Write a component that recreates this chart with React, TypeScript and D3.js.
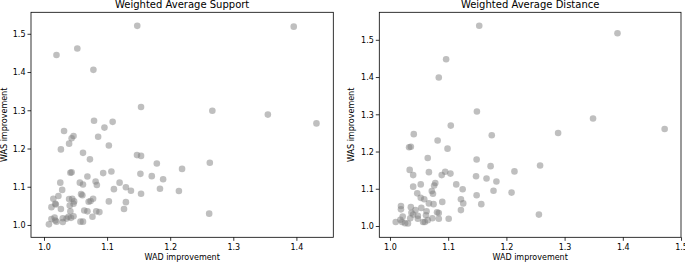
import React from "react";
import * as d3 from "d3";

// ---- data ----
const leftX = [1.147,1.395,1.019,1.052,1.0775,1.153,1.266,1.354,1.431,1.0785,1.108,1.095,1.031,1.046,1.043,1.085,1.039,1.102,1.026,1.061,1.072,1.1466,1.153,1.178,1.218,1.262,1.041,1.043,1.068,1.093,1.106,1.152,1.170,1.188,1.025,1.056,1.061,1.081,1.083,1.119,1.028,1.110,1.129,1.137,1.153,1.183,1.213,1.014,1.022,1.017,1.011,1.026,1.039,1.044,1.047,1.058,1.060,1.070,1.073,1.077,1.102,1.129,1.046,1.040,1.041,1.063,1.068,1.082,1.087,1.126,1.046,1.076,1.011,1.016,1.019,1.029,1.035,1.038,1.029,1.057,1.061,1.007,1.261,1.017,1.018,1.042];
const leftY = [1.522,1.520,1.446,1.463,1.407,1.310,1.300,1.290,1.267,1.274,1.271,1.256,1.247,1.234,1.228,1.232,1.214,1.209,1.199,1.190,1.173,1.184,1.182,1.162,1.148,1.164,1.138,1.139,1.128,1.137,1.141,1.135,1.129,1.121,1.112,1.112,1.107,1.115,1.106,1.112,1.093,1.095,1.100,1.091,1.083,1.096,1.090,1.070,1.077,1.057,1.048,1.043,1.069,1.070,1.063,1.082,1.079,1.062,1.064,1.070,1.063,1.061,1.057,1.052,1.037,1.039,1.037,1.037,1.035,1.043,1.024,1.023,1.017,1.021,1.010,1.019,1.018,1.023,1.009,1.010,1.010,1.003,1.031,1.013,1.055,1.020];

const rightX = [1.1525,1.39,1.0956,1.083,1.1485,1.1036,1.348,1.471,1.040,1.081,1.174,1.288,1.032,1.035,1.098,1.064,1.148,1.172,1.257,1.213,1.033,1.039,1.066,1.088,1.094,1.103,1.147,1.165,1.182,1.052,1.077,1.075,1.039,1.046,1.071,1.073,1.113,1.124,1.177,1.208,1.148,1.052,1.058,1.066,1.074,1.089,1.121,1.125,1.156,1.018,1.018,1.035,1.043,1.053,1.062,1.036,1.039,1.047,1.061,1.080,1.083,1.121,1.021,1.034,1.047,1.072,1.083,1.100,1.009,1.017,1.020,1.025,1.030,1.056,1.059,1.064,1.255];
const rightY = [1.539,1.519,1.449,1.400,1.309,1.271,1.290,1.262,1.248,1.231,1.245,1.251,1.213,1.214,1.209,1.184,1.180,1.162,1.164,1.148,1.152,1.138,1.146,1.138,1.147,1.142,1.135,1.129,1.121,1.113,1.117,1.110,1.107,1.089,1.095,1.088,1.113,1.100,1.096,1.091,1.084,1.077,1.073,1.062,1.060,1.066,1.073,1.062,1.060,1.055,1.046,1.052,1.044,1.050,1.041,1.037,1.032,1.029,1.030,1.038,1.036,1.044,1.027,1.022,1.021,1.022,1.021,1.021,1.012,1.018,1.012,1.009,1.008,1.012,1.012,1.017,1.032];

const leftXTicks = [1.0, 1.1, 1.2, 1.3, 1.4];
const rightXTicks = [1.0, 1.1, 1.2, 1.3, 1.4, 1.5];
const yTicks = [1.0, 1.1, 1.2, 1.3, 1.4, 1.5];

const titles = ["Weighted Average Support", "Weighted Average Distance"];
const xLabel = "WAD improvement";
const yLabel = "WAS improvement";

const FONT = "DejaVu Sans, sans-serif";

type PanelProps = {
  left: number; right: number; top: number; bottom: number;
  xDomain: [number, number]; yDomain: [number, number];
  xs: number[]; ys: number[]; xTicks: number[]; title: string; yLabelX: number;
};

function Panel(p: PanelProps) {
  const x = d3.scaleLinear().domain(p.xDomain).range([p.left, p.right]);
  const y = d3.scaleLinear().domain(p.yDomain).range([p.bottom, p.top]);
  const fmt = d3.format(".1f");
  const cx = (p.left + p.right) / 2;
  const cy = (p.top + p.bottom) / 2;
  return (
    <g>
      <text x={cx} y={8} fontSize={10} textAnchor="middle" fontFamily={FONT} fill="#000">{p.title}</text>
      {p.xs.map((v, i) => (
        <circle key={i} cx={x(v)} cy={y(p.ys[i])} r={3.3} fill="#7f7f7f" fillOpacity={0.5} />
      ))}
      <rect x={p.left} y={p.top} width={p.right - p.left} height={p.bottom - p.top} fill="none" stroke="#000" strokeWidth={0.8} />
      {p.xTicks.map((t) => (
        <g key={"x" + t}>
          <line x1={x(t)} x2={x(t)} y1={p.bottom} y2={p.bottom + 3.5} stroke="#000" strokeWidth={0.8} />
          <text x={x(t)} y={p.bottom + 12.5} fontSize={8} textAnchor="middle" fontFamily={FONT} fill="#000">{fmt(t)}</text>
        </g>
      ))}
      {yTicks.map((t) => (
        <g key={"y" + t}>
          <line x1={p.left - 3.5} x2={p.left} y1={y(t)} y2={y(t)} stroke="#000" strokeWidth={0.8} />
          <text x={p.left - 5.5} y={y(t) + 2.9} fontSize={8} textAnchor="end" fontFamily={FONT} fill="#000">{fmt(t)}</text>
        </g>
      ))}
      <text x={cx} y={260} fontSize={8} textAnchor="middle" fontFamily={FONT} fill="#000">{xLabel}</text>
      <text transform={`translate(${p.yLabelX},${cy}) rotate(-90)`} fontSize={8} textAnchor="middle" fontFamily={FONT} fill="#000">{yLabel}</text>
    </g>
  );
}

export default function App() {
  return (
    <svg width={685} height={264} style={{ position: "absolute", left: 0, top: 0, background: "#fff" }}>
      <rect width={685} height={264} fill="#fff" />
      <Panel left={31} right={333.3} top={12.3} bottom={237.3}
        xDomain={[0.9786, 1.4577]} yDomain={[0.9691, 1.5575]}
        xs={leftX} ys={leftY} xTicks={leftXTicks} title={titles[0]} yLabelX={7} />
      <Panel left={379.3} right={681} top={12.3} bottom={237.3}
        xDomain={[0.9808, 1.4991]} yDomain={[0.971, 1.5752]}
        xs={rightX} ys={rightY} xTicks={rightXTicks} title={titles[1]} yLabelX={354} />
    </svg>
  );
}
